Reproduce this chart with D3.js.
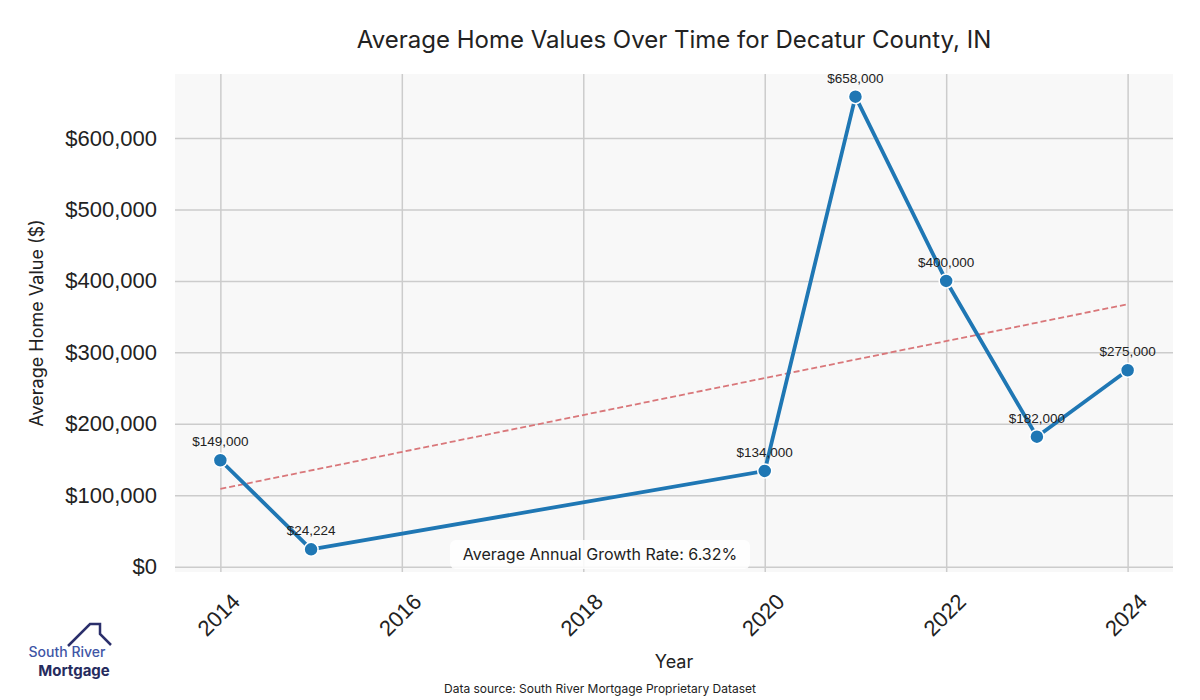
<!DOCTYPE html>
<html>
<head>
<meta charset="utf-8">
<script src="https://cdn.jsdelivr.net/npm/d3@7"></script>
<style>
  body { margin: 0; background: #fff; }
  svg { display: block; }
</style>
</head>
<body>
<div id="chart"></div>
<script>
// data
var years = [2014, 2015, 2020, 2021, 2022, 2023, 2024];
var values = [149000, 24224, 134000, 658000, 400000, 182000, 275000];
var xTicks = [2014, 2016, 2018, 2020, 2022, 2024];
var yTicks = [0, 100000, 200000, 300000, 400000, 500000, 600000];

var width = 1200, height = 700;
var plot = { left: 175, top: 74, right: 1173, bottom: 572 };

var svg = d3.select("#chart")
	.append("svg")
	.attr("width", width)
	.attr("height", height);

// domains padded like matplotlib's 5% margins
var yMin = d3.min(values), yMax = d3.max(values);
var yPad = (yMax - yMin) * 0.05;
var x = d3.scaleLinear().domain([2013.5, 2024.5]).range([plot.left, plot.right]);
var y = d3.scaleLinear().domain([yMin - yPad, yMax + yPad]).range([plot.bottom, plot.top]);

var tickFont = "'Liberation Sans', Arial, sans-serif";
var labelFont = "Inter, 'Noto Sans', sans-serif";

svg.append("rect")
	.attr("x", plot.left)
	.attr("y", plot.top)
	.attr("width", plot.right - plot.left)
	.attr("height", plot.bottom - plot.top)
	.style("fill", "#f8f8f8");

// grid
var yAxis = d3.axisLeft(y).tickValues(yTicks)
	.tickSize(-(plot.right - plot.left)).tickPadding(18)
	.tickFormat(function(d) { return "$" + d3.format(",")(d); });
var gy = svg.append("g")
	.attr("transform", "translate(" + plot.left + ",0)")
	.call(yAxis);
gy.select(".domain").remove();
gy.selectAll("line").style("stroke", "#cccccc").style("stroke-width", 1.5);
gy.selectAll("text")
	.style("font-family", tickFont)
	.style("font-size", "22px")
	.style("fill", "#222");

var xAxis = d3.axisBottom(x).tickValues(xTicks)
	.tickSize(-(plot.bottom - plot.top)).tickFormat(d3.format("d"));
var gx = svg.append("g")
	.attr("transform", "translate(0," + plot.bottom + ")")
	.call(xAxis);
gx.select(".domain").remove();
gx.selectAll("line").style("stroke", "#cccccc").style("stroke-width", 1.5);
gx.selectAll("text")
	.attr("y", 0).attr("dy", null)
	.attr("text-anchor", "middle")
	.attr("dominant-baseline", "central")
	.attr("transform", "translate(-2,43) rotate(-45)")
	.style("font-family", tickFont)
	.style("font-size", "22px")
	.style("fill", "#222");

// trend line from a least squares fit of the points
var mx = d3.mean(years), my = d3.mean(values);
var sxy = d3.sum(years, function(d, i) { return (d - mx) * (values[i] - my); });
var sxx = d3.sum(years, function(d) { return (d - mx) * (d - mx); });
var slope = sxy / sxx, icpt = my - slope * mx;
var trendX = [d3.min(years), d3.max(years)];
svg.append("line")
	.attr("x1", x(trendX[0])).attr("y1", y(icpt + slope * trendX[0]))
	.attr("x2", x(trendX[1])).attr("y2", y(icpt + slope * trendX[1]))
	.style("stroke", "#d9777a")
	.style("stroke-width", 1.8)
	.style("stroke-dasharray", "6,3");

var points = years.map(function(d, i) { return { year: d, value: values[i] }; });

svg.append("path")
	.datum(points)
	.attr("d", d3.line().x(function(d) { return x(d.year); }).y(function(d) { return y(d.value); }))
	.style("fill", "none")
	.style("stroke", "#1f77b4")
	.style("stroke-width", 3.8)
	.style("stroke-linejoin", "round");

svg.selectAll(".dot")
	.data(points)
	.enter().append("circle")
	.attr("class", "dot")
	.attr("cx", function(d) { return x(d.year); })
	.attr("cy", function(d) { return y(d.value); })
	.attr("r", 7)
	.style("fill", "#1f77b4")
	.style("stroke", "#fff")
	.style("stroke-width", 1.5);

svg.selectAll(".vlabel")
	.data(points)
	.enter().append("text")
	.attr("class", "vlabel")
	.attr("x", function(d) { return x(d.year); })
	.attr("y", function(d) { return y(d.value) - 14; })
	.attr("text-anchor", "middle")
	.style("font-family", tickFont)
	.style("font-size", "13.5px")
	.style("fill", "#222")
	.text(function(d) { return "$" + d3.format(",")(d.value); });

// growth rate box
var cagr = Math.pow(values[values.length - 1] / values[0], 1 / (years[years.length - 1] - years[0])) - 1;
var ann = svg.append("g").attr("transform", "translate(600,554)");
ann.append("rect")
	.attr("x", -150).attr("y", -14).attr("width", 300).attr("height", 29)
	.attr("rx", 6)
	.style("fill", "#fff").style("fill-opacity", 0.85);
ann.append("text")
	.attr("text-anchor", "middle")
	.attr("dominant-baseline", "central")
	.style("font-family", labelFont)
	.style("font-size", "16px")
	.style("fill", "#222")
	.text("Average Annual Growth Rate: " + (cagr * 100).toFixed(2) + "%");

// titles
svg.append("text")
	.attr("x", 674).attr("y", 48)
	.attr("text-anchor", "middle")
	.style("font-family", labelFont)
	.style("font-size", "24px")
	.style("fill", "#222")
	.text("Average Home Values Over Time for Decatur County, IN");

svg.append("text")
	.attr("x", 674).attr("y", 668)
	.attr("text-anchor", "middle")
	.style("font-family", labelFont)
	.style("font-size", "18px")
	.style("fill", "#222")
	.text("Year");

svg.append("text")
	.attr("transform", "translate(43,323) rotate(-90)")
	.attr("text-anchor", "middle")
	.style("font-family", labelFont)
	.style("font-size", "18px")
	.style("fill", "#222")
	.text("Average Home Value ($)");

svg.append("text")
	.attr("x", 600).attr("y", 693)
	.attr("text-anchor", "middle")
	.style("font-family", labelFont)
	.style("font-size", "12px")
	.style("fill", "#222")
	.text("Data source: South River Mortgage Proprietary Dataset");

// logo
var logo = svg.append("g");
logo.append("path")
	.attr("d", "M68,646 L90,624 L100,624 L100,634 L111,645")
	.style("fill", "none")
	.style("stroke", "#2b2f6b")
	.style("stroke-width", 2.5);
logo.append("text")
	.attr("x", 67).attr("y", 657)
	.attr("text-anchor", "middle")
	.style("font-family", labelFont)
	.style("font-size", "14px")
	.style("font-weight", 500)
	.style("fill", "#3f56a6")
	.text("South River");
logo.append("text")
	.attr("x", 74).attr("y", 676)
	.attr("text-anchor", "middle")
	.style("font-family", labelFont)
	.style("font-size", "15px")
	.style("font-weight", 700)
	.style("fill", "#262b5e")
	.text("Mortgage");
</script>
</body>
</html>
